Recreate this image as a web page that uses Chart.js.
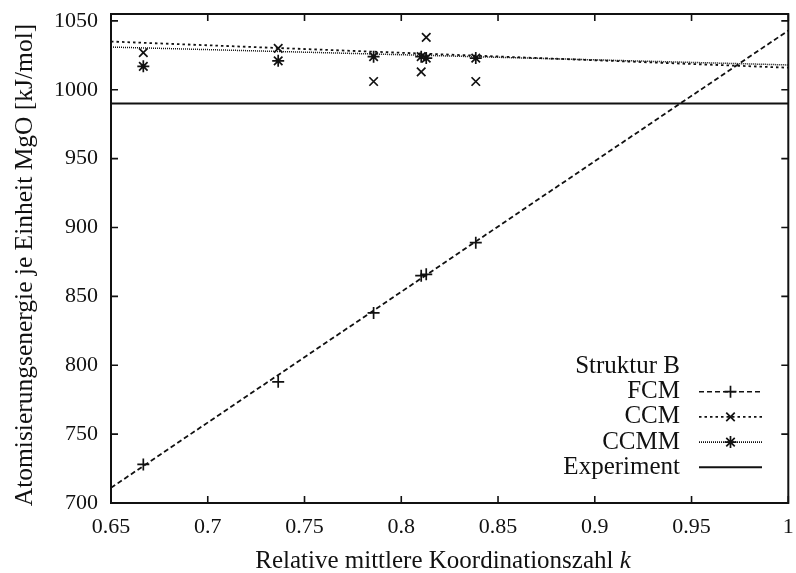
<!DOCTYPE html>
<html>
<head>
<meta charset="utf-8">
<script src="https://cdn.jsdelivr.net/npm/chart.js@4/dist/chart.umd.min.js"></script>
<style>
  html, body { margin: 0; padding: 0; background: #fff; }
  #wrap { width: 796px; height: 573px; }
</style>
</head>
<body>
<div id="wrap"><canvas id="energyChart" width="796" height="573"></canvas></div>
<script>
// relative mean coordination number of the structures
const kValues = [0.6667, 0.7364, 0.7857, 0.8103, 0.8129, 0.8385];
// atomisation energy per MgO unit [kJ/mol]
const fcmValues = [728, 788, 838, 865, 866, 889];
const ccmValues = [1027, 1030, 1006, 1013, 1038, 1006];
const ccmmValues = [1017, 1021, 1024, 1024, 1023, 1023];

// fitted lines, given at both ends of the k range
const fitRange = [0.65, 1];
const fcmFit = [711, 1043];
const ccmFit = [1035, 1016];
const ccmmFit = [1031, 1018];
const experimentValue = 990;

const xTicks = [0.65, 0.7, 0.75, 0.8, 0.85, 0.9, 0.95, 1];
const yTicks = [700, 750, 800, 850, 900, 950, 1000, 1050];

const xTitle = 'Relative mittlere Koordinationszahl ';
const xTitleVar = 'k';
const yTitle = 'Atomisierungsenergie je Einheit MgO [kJ/mol]';

const legendTitle = 'Struktur B';
const legendItems = [
  { label: 'FCM', dash: [5, 3], marker: 'cross' },
  { label: 'CCM', dash: [2.5, 3], marker: 'crossRot' },
  { label: 'CCMM', dash: [1, 1], marker: 'star' },
  { label: 'Experiment', dash: [], marker: null }
];

const SERIF = '"Liberation Serif", "Times New Roman", serif';
const INK = '#111';

const pts = vals => kValues.map((k, i) => ({ x: k, y: vals[i] }));
const fit = vals => fitRange.map((k, i) => ({ x: k, y: vals[i] }));

function markerSet(data, style) {
  return {
    type: 'scatter', data, showLine: false,
    pointStyle: style, pointRadius: 6, pointBorderWidth: 1.7,
    borderColor: INK, backgroundColor: INK
  };
}
function lineSet(data, dash, width) {
  return {
    type: 'line', data, pointRadius: 0, borderColor: INK,
    borderWidth: width, borderDash: dash, fill: false, tension: 0
  };
}

// frame with inward ticks on all sides, key and axis titles
const framePlugin = {
  id: 'frame',
  afterDatasetsDraw(chart) {
    const { ctx, chartArea: a, scales: { x, y } } = chart;
    ctx.save();
    ctx.strokeStyle = INK;
    ctx.fillStyle = INK;
    ctx.lineWidth = 2;
    ctx.setLineDash([]);
    ctx.strokeRect(a.left, a.top, a.width, a.height);
    ctx.beginPath();
    ctx.lineWidth = 1.6;
    xTicks.forEach(v => {
      const px = x.getPixelForValue(v);
      ctx.moveTo(px, a.bottom); ctx.lineTo(px, a.bottom - 7);
      ctx.moveTo(px, a.top); ctx.lineTo(px, a.top + 7);
    });
    yTicks.forEach(v => {
      const py = y.getPixelForValue(v);
      ctx.moveTo(a.left, py); ctx.lineTo(a.left + 7, py);
      ctx.moveTo(a.right, py); ctx.lineTo(a.right - 7, py);
    });
    ctx.stroke();

    // key
    const textRight = 680, lineL = 699, lineR = 762, top = 366.5, step = 25.2;
    ctx.font = '25px ' + SERIF;
    ctx.textAlign = 'right';
    ctx.textBaseline = 'middle';
    ctx.fillText(legendTitle, textRight, top);
    legendItems.forEach((it, i) => {
      const yy = top + step * (i + 1);
      ctx.fillText(it.label, textRight, yy);
      ctx.beginPath();
      ctx.lineWidth = it.marker ? 1.6 : 2;
      ctx.setLineDash(it.dash);
      ctx.moveTo(lineL, yy); ctx.lineTo(lineR, yy);
      ctx.stroke();
      ctx.setLineDash([]);
      if (it.marker) {
        ctx.lineWidth = 1.7;
        Chart.helpers.drawPoint(ctx, { pointStyle: it.marker, radius: 6, rotation: 0, borderWidth: 1.7 },
          (lineL + lineR) / 2, yy);
      }
    });

    // x axis title with italic k
    ctx.textBaseline = 'alphabetic';
    ctx.textAlign = 'left';
    ctx.font = '25px ' + SERIF;
    const w1 = ctx.measureText(xTitle).width;
    ctx.font = 'italic 25px ' + SERIF;
    const w2 = ctx.measureText(xTitleVar).width;
    const x0 = 443 - (w1 + w2) / 2;
    ctx.font = '25px ' + SERIF;
    ctx.fillText(xTitle, x0, 568);
    ctx.font = 'italic 25px ' + SERIF;
    ctx.fillText(xTitleVar, x0 + w1, 568);

    // y axis title
    ctx.translate(32, 265);
    ctx.rotate(-Math.PI / 2);
    ctx.textAlign = 'center';
    ctx.font = '25.5px ' + SERIF;
    ctx.fillText(yTitle, 0, 0);
    ctx.restore();
  }
};

new Chart(document.getElementById('energyChart'), {
  data: {
    datasets: [
      lineSet(fit(fcmFit), [5, 3], 1.8),
      lineSet(fit(ccmFit), [2.5, 3], 1.8),
      lineSet(fit(ccmmFit), [1, 1], 1.5),
      lineSet(fit([experimentValue, experimentValue]), [], 2),
      markerSet(pts(fcmValues), 'cross'),
      markerSet(pts(ccmValues), 'crossRot'),
      markerSet(pts(ccmmValues), 'star')
    ]
  },
  options: {
    responsive: false,
    animation: false,
    layout: { padding: { top: 14, right: 6, left: 0, bottom: 0 } },
    plugins: { legend: { display: false }, tooltip: { enabled: false } },
    scales: {
      x: {
        type: 'linear', min: 0.65, max: 1,
        grid: { display: false, drawTicks: false }, border: { display: false },
        afterBuildTicks: s => { s.ticks = xTicks.map(v => ({ value: v })); },
        afterFit: s => { s.height = 70; s.paddingLeft = 0; s.paddingRight = 0; },
        ticks: {
          color: INK, padding: 11, maxRotation: 0,
          font: { family: SERIF, size: 22 },
          callback: v => String(Number(v.toFixed(2)))
        }
      },
      y: {
        type: 'linear', min: 700, max: 1055,
        grid: { display: false, drawTicks: false }, border: { display: false },
        afterBuildTicks: s => { s.ticks = yTicks.map(v => ({ value: v })); },
        afterFit: s => { s.width = 111; s.paddingTop = 0; s.paddingBottom = 0; },
        ticks: {
          color: INK, padding: 13,
          font: { family: SERIF, size: 22 },
          callback: v => String(v)
        }
      }
    }
  },
  plugins: [framePlugin]
});
</script>
</body>
</html>
